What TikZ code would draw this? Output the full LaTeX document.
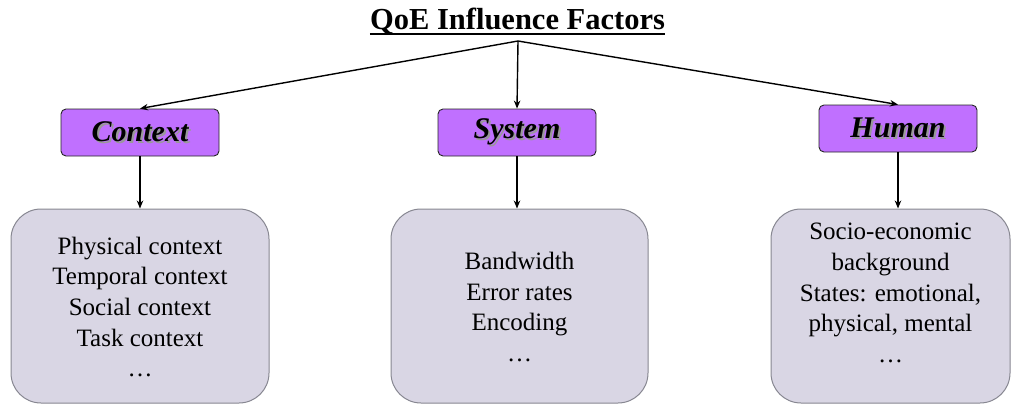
\documentclass[tikz,border=0pt]{standalone}
\usepackage{fontspec}
\setmainfont{Liberation Serif}
\usetikzlibrary{arrows.meta}
\definecolor{catfill}{RGB}{192,112,255}
\definecolor{listfill}{RGB}{217,214,228}
\definecolor{listdraw}{RGB}{135,135,145}
\newcommand{\shadowed}[1]{\makebox[0pt][l]{\hspace{2pt}\raisebox{-2pt}{\color{black!40}#1}}#1}
\tikzset{
  category/.style={draw=black!85, line width=0.9pt, fill=catfill, rounded corners=5pt,
    minimum width=158pt, minimum height=47pt, inner sep=0pt,
    font=\fontsize{30}{34}\selectfont\bfseries\itshape},
  listbox/.style={draw=listdraw, line width=1pt, fill=listfill, rounded corners=30pt,
    minimum height=194pt, inner sep=0pt},
  listtext/.style={inner sep=0pt, align=center, font=\fontsize{25}{30.7}\selectfont},
  link/.style={line width=1.4pt, -{Stealth[length=8pt,width=6.5pt]}}
}
\begin{document}
\begin{tikzpicture}[x=1pt,y=-1pt]
\useasboundingbox (0,0) rectangle (1017,404);
% heading
\node[inner sep=0pt, anchor=base, font=\fontsize{30.5}{34}\selectfont\bfseries] (title) at (517.5,30) {QoE Influence Factors};
\draw[line width=1.5pt] ([yshift=-4pt]title.base west) -- ([yshift=-4pt]title.base east);
\coordinate (root) at (518,41);
% factor categories
\node[category] (context) at (140,132.5) {\shadowed{Context}};
\node[category] (system)  at (517,132.5) {\shadowed{System}};
\node[category] (human)   at (898,128.5) {\shadowed{Human}};
% factor lists
\node[listbox, minimum width=258pt] (ctxlist) at (140,306) {};
\node[listbox, minimum width=257pt] (syslist) at (519.5,306) {};
\node[listbox, minimum width=239pt] (humlist) at (890.5,306) {};
\node[listtext] (ctxtext) at ([yshift=-1pt]ctxlist.center)
  {Physical context\\Temporal context\\Social context\\Task context\\\dots};
\node[listtext] (systext) at ([yshift=-1pt]syslist.center)
  {Bandwidth\\Error rates\\Encoding\\\dots};
\node[listtext] (humtext) at ([yshift=13pt]humlist.center)
  {Socio-economic\\background\\States: emotional,\\physical, mental\\\dots};
% connectors
\draw[link] (root) -- (context.north);
\draw[link] (root) -- (system.north);
\draw[link] (root) -- (human.north);
\draw[link] (context.south) -- (context.south |- ctxlist.north);
\draw[link] (system.south) -- (system.south |- syslist.north);
\draw[link] (human.south) -- (human.south |- humlist.north);
\end{tikzpicture}
\end{document}
